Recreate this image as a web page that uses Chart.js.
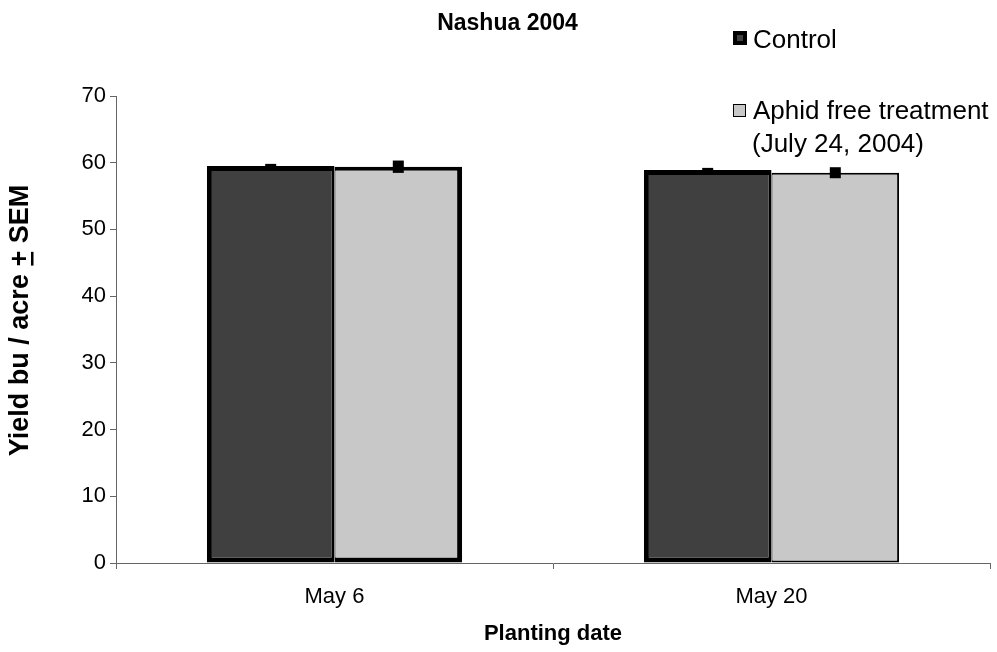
<!DOCTYPE html>
<html><head><meta charset="utf-8">
<script src="https://cdn.jsdelivr.net/npm/chart.js@4.4.1/dist/chart.umd.min.js"></script>
<style>html,body{margin:0;padding:0;background:#fff}#wrap{width:997px;height:652px;position:relative}</style>
</head><body><div id="wrap"><canvas id="c"></canvas></div>
<script>
const categories = ['May 6', 'May 20'];
const controlYield = [59.5, 58.9];
const aphidFreeYield = [59.4, 58.5];
const controlSEM = [0.1, 0.1];
const aphidFreeSEM = [0.7, 0.6];
const yTickValues = [0, 10, 20, 30, 40, 50, 60, 70];
const seriesNames = ['Control', 'Aphid free treatment'];
const aphidSubLabel = '(July 24, 2004)';
const chartTitle = 'Nashua 2004';
const xTitle = 'Planting date';
const yTitle = 'Yield bu / acre + SEM';
const semBySeries = [controlSEM, aphidFreeSEM];

const FONT = "'Liberation Sans', Arial, sans-serif";
const AXIS = '#666666';

const errorBars = {
  id: 'errorBars',
  afterDatasetsDraw(chart) {
    const ctx = chart.ctx, y = chart.scales.y;
    chart.data.datasets.forEach((ds, di) => {
      const meta = chart.getDatasetMeta(di);
      meta.data.forEach((bar, i) => {
        const v = ds.data[i], e = semBySeries[di][i];
        const yt = y.getPixelForValue(v + e), yb = y.getPixelForValue(v - e);
        ctx.save();
        ctx.fillStyle = '#000';
        ctx.fillRect(bar.x - 5.5, yt - 1.5, 11, (yb - yt) + 3);
        ctx.restore();
      });
    });
  }
};

const decorations = {
  id: 'decorations',
  afterDraw(chart) {
    const ctx = chart.ctx;
    ctx.save();
    ctx.fillStyle = '#000';
    // Title
    ctx.font = "bold 23px " + FONT;
    ctx.textAlign = 'center'; ctx.textBaseline = 'alphabetic';
    ctx.fillText(chartTitle, 507.5, 30);
    // Legend
    const ds = chart.data.datasets;
    ctx.fillStyle = '#000'; ctx.fillRect(733, 31, 14, 14);
    ctx.fillStyle = ds[0].backgroundColor; ctx.fillRect(737, 35, 6, 6);
    ctx.fillStyle = '#000'; ctx.fillRect(733, 104, 13, 13);
    ctx.fillStyle = ds[1].backgroundColor; ctx.fillRect(734, 105, 11, 11);
    ctx.fillStyle = '#000';
    ctx.font = "26px " + FONT; ctx.textAlign = 'left';
    ctx.fillText(seriesNames[0], 753, 48);
    ctx.fillText(seriesNames[1], 753, 119);
    ctx.fillText(aphidSubLabel, 752, 152);
    // Y title
    ctx.translate(28, 320.5);
    ctx.rotate(-Math.PI / 2);
    ctx.font = "bold 27px " + FONT;
    ctx.textAlign = 'left';
    const W = ctx.measureText(yTitle).width;
    const pre = yTitle.slice(0, yTitle.indexOf('+'));
    const w0 = ctx.measureText(pre).width, wp = ctx.measureText('+').width;
    ctx.fillText(yTitle, -W / 2, 0);
    ctx.fillRect(-W / 2 + w0 + 1, 3, wp - 2, 2.5);
    ctx.restore();
  }
};

new Chart(document.getElementById('c'), {
  type: 'bar',
  data: {
    labels: categories,
    datasets: [
      {
        label: seriesNames[0],
        data: controlYield,
        backgroundColor: '#404040',
        borderColor: '#000000',
        borderWidth: {top: 5, left: 5, bottom: 5, right: 3},
        borderSkipped: false
      },
      {
        label: seriesNames[1] + ' ' + aphidSubLabel,
        data: aphidFreeYield,
        backgroundColor: '#c8c8c8',
        borderColor: '#000000',
        borderWidth: (c) => c.dataIndex === 0 ? {top: 4, right: 5, bottom: 5, left: 1} : {top: 2, right: 2, bottom: 2, left: 1},
        borderSkipped: false
      }
    ]
  },
  options: {
    responsive: true,
    maintainAspectRatio: false,
    animation: false,
    datasets: { bar: { categoryPercentage: 0.584, barPercentage: 1.0 } },
    layout: { padding: { top: 96, right: 7, left: 0, bottom: 0 } },
    plugins: { legend: { display: false }, title: { display: false }, tooltip: { enabled: false } },
    scales: {
      x: {
        afterFit: (s) => { s.height = 89; },
        grid: { offset: true, drawOnChartArea: false, drawTicks: true, tickLength: 6, color: AXIS },
        border: { display: true, color: AXIS, width: 1 },
        ticks: { color: '#000', font: { family: FONT, size: 22 }, padding: 15 },
        title: { display: true, text: xTitle, color: '#000', font: { family: FONT, size: 22, weight: 'bold' }, padding: { top: 0, bottom: 5 } }
      },
      y: {
        min: 0, max: 70,
        afterFit: (s) => { s.width = 116; },
        afterBuildTicks: (s) => { s.ticks = yTickValues.map(v => ({ value: v })); },
        grid: { drawOnChartArea: false, drawTicks: true, tickLength: 6, color: AXIS },
        border: { display: true, color: AXIS, width: 1 },
        ticks: { color: '#000', font: { family: FONT, size: 22 }, padding: 4 }
      }
    }
  },
  plugins: [errorBars, decorations]
});
</script>
</body></html>
